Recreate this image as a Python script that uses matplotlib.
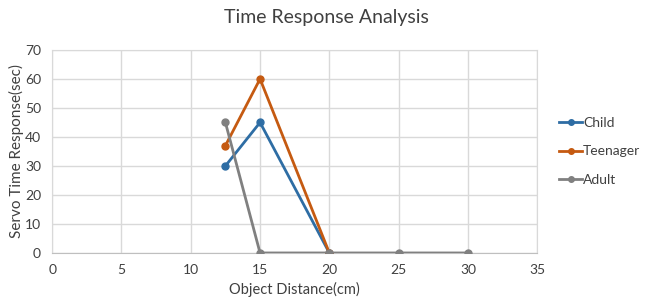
import matplotlib
matplotlib.use("Agg")
import matplotlib.pyplot as plt

plt.rcParams["font.family"] = ["Lato", "DejaVu Sans"]

# Data
child_x = [12.5, 15, 20]
child_y = [30, 45, 0]
teen_x = [12.5, 15, 20]
teen_y = [37, 60, 0]
adult_x = [12.5, 15, 20, 25, 30]
adult_y = [45, 0, 0, 0, 0]

x_ticks = [0, 5, 10, 15, 20, 25, 30, 35]
y_ticks = [0, 10, 20, 30, 40, 50, 60, 70]

fig = plt.figure(figsize=(6.52, 2.99), dpi=100)
ax = fig.add_axes([0.08, 0.154, 0.744, 0.679])

ax.plot(child_x, child_y, color="#2E6DA4", lw=2, marker="o", ms=5, label="Child", zorder=3)
ax.plot(teen_x, teen_y, color="#C55A11", lw=2, marker="o", ms=5, label="Teenager", zorder=3)
ax.plot(adult_x, adult_y, color="#808080", lw=2, marker="o", ms=5, label="Adult", zorder=4)

ax.set_xlim(0, 35)
ax.set_ylim(0, 70)
ax.set_xticks(x_ticks)
ax.set_yticks(y_ticks)
ax.grid(True, color="#D9D9D9", lw=1)
ax.set_axisbelow(True)
for s in ax.spines.values():
    s.set_color("#D9D9D9")
ax.spines["bottom"].set_color("#BFBFBF")
ax.tick_params(length=0, labelsize=10, colors="#404040", pad=8)

ax.set_xlabel("Object Distance(cm)", fontsize=10.5, color="#404040", labelpad=4)
ax.set_ylabel("Servo Time Response(sec)", fontsize=11, color="#404040", labelpad=1)
fig.suptitle("Time Response Analysis", fontsize=14, color="#404040", y=0.97)

ax.legend(loc="center left", bbox_to_anchor=(1.02, 0.5), frameon=False,
          fontsize=10, handlelength=1.6, handletextpad=0.1, labelspacing=1.2,
          markerscale=0.8, labelcolor="#404040")

fig.savefig("out.png", dpi=100)
